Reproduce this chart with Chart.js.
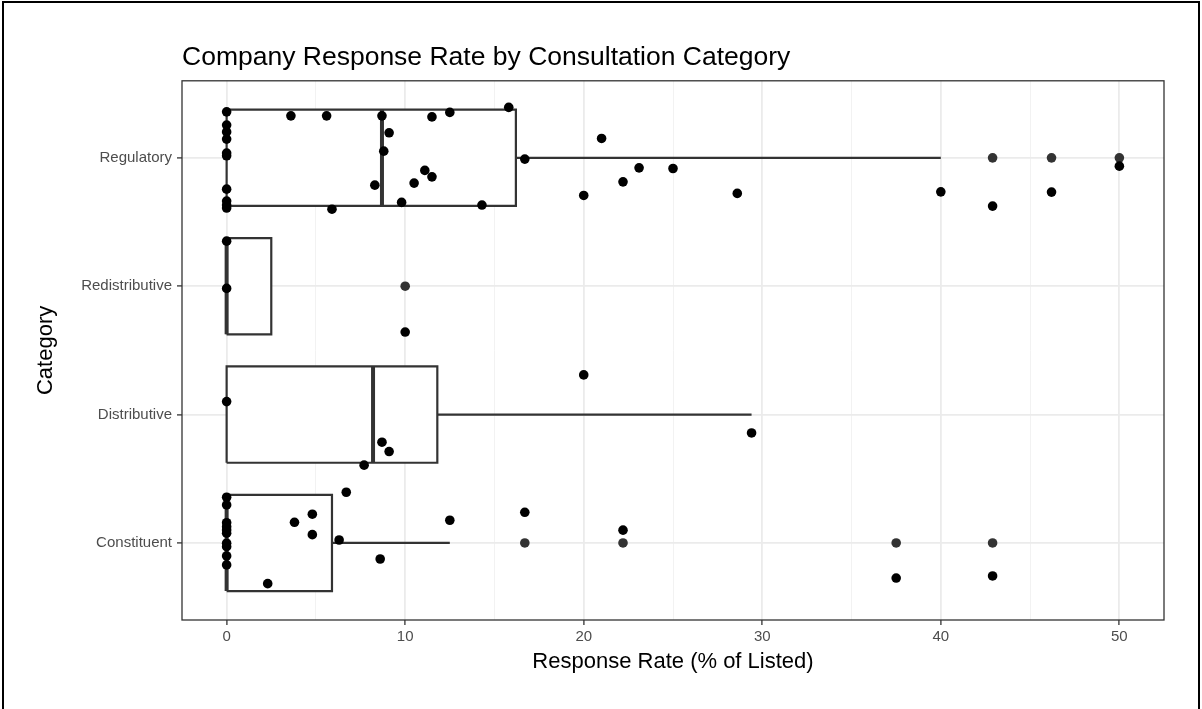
<!DOCTYPE html>
<html>
<head>
<meta charset="utf-8">
<title>Company Response Rate by Consultation Category</title>
<script src="https://cdn.jsdelivr.net/npm/chart.js"></script>
<style>
  body { margin: 0; background: #fff; }
  #wrap { position: relative; width: 1202px; height: 709px; }
  #frame {
    position: absolute; left: 2px; top: 1px; width: 1198px; height: 708px;
    border: 2px solid #000; border-bottom: none; box-sizing: border-box; pointer-events: none;
  }
</style>
</head>
<body>
<div id="wrap">
  <canvas id="chart" width="1202" height="709"></canvas>
  <div id="frame"></div>
</div>
<script>
// categories, bottom to top (y positions 1..4)
const categories = ["Constituent", "Distributive", "Redistributive", "Regulatory"];

// box stats (% of listed)
const lowerHinge = [0, 0, 0, 0];
const medians = [0, 8.2, 0, 8.7];
const upperHinge = [5.9, 11.8, 2.5, 16.2];
const upperWhisker = [12.5, 29.4, 2.5, 40];

// outliers drawn by the boxplot on the centre line
const constituentOut = [16.7, 22.2, 37.5, 42.9];
const distributiveOut = [];
const redistributiveOut = [10];
const regulatoryOut = [42.9, 46.2, 50];

// jittered raw points: response rate and vertical jitter (category units)
const constituentVals = [0, 0, 0, 0, 0, 0, 0, 0, 0, 0, 6.7, 4.8, 3.8, 4.8, 6.3, 8.6, 2.3, 12.5, 16.7, 22.2, 37.5, 42.9];
const constituentJit = [0.356, 0.296, 0.158, 0.127, 0.101, 0.076, -0.002, -0.029, -0.101, -0.171, 0.395, 0.224, 0.161, 0.065, 0.023, -0.125, -0.317, 0.177, 0.239, 0.10, -0.273, -0.257];

const distributiveVals = [0, 20, 29.4, 8.7, 9.1, 7.7];
const distributiveJit = [0.101, 0.309, -0.143, -0.215, -0.288, -0.394];

const redistributiveVals = [0, 0, 10];
const redistributiveJit = [0.351, -0.017, -0.357];

const regulatoryVals = [0, 0, 0, 0, 0, 0, 0, 0, 0, 0,
  3.6, 5.6, 8.7, 9.1, 8.8, 8.3, 11.5, 12.5, 15.8, 16.7, 11.1, 11.5, 10.5, 9.8, 5.9, 14.3,
  21.0, 20.0, 22.2, 23.1, 25.0, 28.6, 40.0, 42.9, 46.2, 50.0];
const regulatoryJit = [0.358, 0.255, 0.202, 0.146, 0.037, 0.016, -0.244, -0.337, -0.368, -0.391,
  0.327, 0.327, 0.327, 0.195, 0.052, -0.213, 0.319, 0.354, 0.393, -0.01, -0.098, -0.148, -0.197, -0.347, -0.4, -0.368,
  0.151, -0.293, -0.187, -0.078, -0.083, -0.277, -0.265, -0.376, -0.267, -0.065];

// x grid (major every 10 with labels, minor in between)
const xGrid = [0, 5, 10, 15, 20, 25, 30, 35, 40, 45, 50];
const xTickLabels = [0, 10, 20, 30, 40, 50];

const FONT = "'Liberation Sans', Arial, Helvetica, sans-serif";
const DARK = "#333333";
const half = 0.375; // half box width

const jitterGroups = [
  [constituentVals, constituentJit],
  [distributiveVals, distributiveJit],
  [redistributiveVals, redistributiveJit],
  [regulatoryVals, regulatoryJit]
];
const outlierGroups = [constituentOut, distributiveOut, redistributiveOut, regulatoryOut];

const datasets = [];

// jittered points on top
datasets.push({
  type: "scatter",
  data: jitterGroups.flatMap((g, i) => g[0].map((v, k) => ({ x: v, y: i + 1 + g[1][k] }))),
  backgroundColor: "#000",
  borderWidth: 0,
  pointRadius: 4.8
});

// boxplot outliers
datasets.push({
  type: "scatter",
  data: outlierGroups.flatMap((g, i) => g.map(v => ({ x: v, y: i + 1 }))),
  backgroundColor: DARK,
  borderWidth: 0,
  pointRadius: 4.8
});

const lineBase = { type: "line", pointRadius: 0, borderColor: DARK, borderCapStyle: "butt", fill: false, tension: 0 };

categories.forEach((c, i) => {
  const p = i + 1;
  datasets.push({ ...lineBase, borderWidth: 4,
    data: [{ x: medians[i], y: p - half }, { x: medians[i], y: p + half }] });
});

categories.forEach((c, i) => {
  const p = i + 1;
  datasets.push({ ...lineBase, borderWidth: 2.2, borderJoinStyle: "miter",
    fill: "shape", backgroundColor: "#fff",
    data: [
      { x: lowerHinge[i], y: p - half }, { x: upperHinge[i], y: p - half },
      { x: upperHinge[i], y: p + half }, { x: lowerHinge[i], y: p + half },
      { x: lowerHinge[i], y: p - half }
    ] });
});

categories.forEach((c, i) => {
  const p = i + 1;
  if (upperWhisker[i] > upperHinge[i]) {
    datasets.push({ ...lineBase, borderWidth: 2.2,
      data: [{ x: upperHinge[i], y: p }, { x: upperWhisker[i], y: p }] });
  }
});

const panelBorder = {
  id: "panelBorder",
  afterDraw(chart) {
    const a = chart.chartArea, ctx = chart.ctx;
    ctx.save();
    ctx.strokeStyle = DARK;
    ctx.lineWidth = 1.3;
    ctx.strokeRect(a.left, a.top, a.right - a.left, a.bottom - a.top);
    ctx.restore();
  }
};

const isMajor = ctx => ctx.tick && xTickLabels.includes(ctx.tick.value);

const myChart = new Chart("chart", {
  data: { datasets },
  plugins: [panelBorder],
  options: {
    responsive: false,
    animation: false,
    layout: { padding: { left: 20, right: 38, top: 0, bottom: 0 } },
    plugins: {
      legend: { display: false },
      tooltip: { enabled: false },
      title: {
        display: true,
        text: "Company Response Rate by Consultation Category",
        align: "start",
        fullSize: false,
        color: "#000",
        font: { family: FONT, size: 26.5, weight: "normal" },
        padding: { top: 42, bottom: 7 }
      }
    },
    scales: {
      x: {
        type: "linear",
        min: -2.5,
        max: 52.5,
        afterFit: s => { s.height = 89; },
        afterBuildTicks: s => { s.ticks = xGrid.map(v => ({ value: v })); },
        ticks: {
          autoSkip: false,
          maxRotation: 0,
          padding: 3,
          color: "#4D4D4D",
          font: { family: FONT, size: 15 },
          callback: v => xTickLabels.includes(v) ? String(v) : ""
        },
        grid: {
          color: ctx => isMajor(ctx) ? "#EBEBEB" : "#F2F2F2",
          lineWidth: ctx => isMajor(ctx) ? 1.8 : 1,
          tickColor: ctx => isMajor(ctx) ? DARK : "rgba(0,0,0,0)",
          tickWidth: 1.3,
          tickLength: 5
        },
        border: { display: false },
        title: {
          display: true,
          text: "Response Rate (% of Listed)",
          color: "#000",
          font: { family: FONT, size: 22 },
          padding: { top: 0, bottom: 34 }
        }
      },
      y: {
        type: "linear",
        min: 0.4,
        max: 4.6,
        afterFit: s => { s.width = 162; },
        afterBuildTicks: s => { s.ticks = categories.map((c, i) => ({ value: i + 1 })); },
        ticks: {
          autoSkip: false,
          padding: 5,
          color: "#4D4D4D",
          font: { family: FONT, size: 15 },
          callback: v => categories[v - 1]
        },
        grid: {
          color: "#EBEBEB",
          lineWidth: 1.8,
          tickColor: DARK,
          tickWidth: 1.3,
          tickLength: 5
        },
        border: { display: false },
        title: {
          display: true,
          text: "Category",
          color: "#000",
          font: { family: FONT, size: 22 },
          padding: { top: 13, bottom: 0 }
        }
      }
    }
  }
});
</script>
</body>
</html>
